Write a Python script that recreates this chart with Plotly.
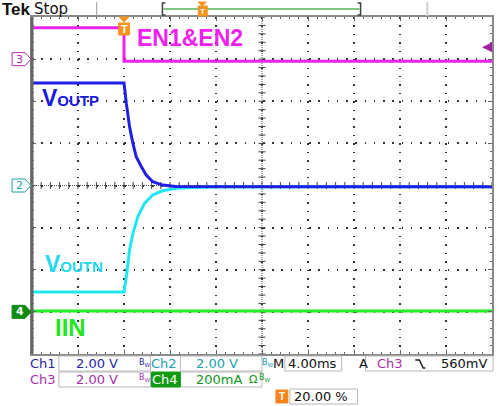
import plotly.graph_objects as go

# ---------------- data ----------------
# Ch1 : VOUTP (V), 2 V/div, offset 0 div
time_ch1_ms = [-8.0, 0.0, 0.2, 0.48, 0.77, 1.06, 1.5, 1.93, 2.5, 3.37, 4.5, 8.0, 16.0, 24.0, 32.0]
voutp_v = [4.87, 4.87, 3.91, 2.80, 2.01, 1.37, 0.90, 0.50, 0.18, 0.02, -0.05, -0.06, -0.06, -0.06, -0.06]
# Ch2 : VOUTN (V), 2 V/div, offset 0 div
time_ch2_ms = [-8.0, 0.0, 0.2, 0.48, 0.77, 1.2, 1.78, 2.5, 3.37, 4.5, 6.0, 8.0, 16.0, 24.0, 32.0]
voutn_v = [-5.06, -5.06, -4.34, -3.07, -2.28, -1.49, -0.85, -0.45, -0.25, -0.13, -0.09, -0.07, -0.06, -0.06, -0.06]
# Ch3 : EN1&EN2 (V), 2 V/div, offset +3 div
time_ch3_ms = [-8.0, 0.0, 0.0, 32.0]
en_v = [1.49, 1.49, -0.10, -0.10]
# Ch4 : IIN (mA), 200 mA/div, offset -3 div
time_ch4_ms = [-8.0, 32.0]
iin_ma = [4.0, 4.0]

ch_scale = {"ch1": 2.0, "ch2": 2.0, "ch3": 2.0, "ch4": 200.0}
ch_offset = {"ch1": 0.0, "ch2": 0.0, "ch3": 3.0, "ch4": -3.0}
trig_level_v = 0.56

# ---------------- geometry helpers (for decorations) ----------------
W, H = 501, 406
PL, PR, PT, PB = 32, 494, 17, 354


def fx(px):
    return (px - PL) / (PR - PL)


def fy(py):
    return (PB - py) / (PB - PT)


def to_div(vals, ch):
    return [ch_offset[ch] + v / ch_scale[ch] for v in vals]


def ppath(points, close=False):
    s = "M " + " L ".join(f"{fx(x):.5f},{fy(y):.5f}" for x, y in points)
    return s + (" Z" if close else "")


C1 = "#1f1fe6"
C2 = "#1ee6f5"
C3 = "#f020f0"
C4 = "#22ee22"

fig = go.Figure()

# center crosshair tick marks
xt = [-8 + 0.8 * k for k in range(51)]
fig.add_trace(go.Scatter(x=xt, y=[0] * len(xt), mode="markers", hoverinfo="skip",
                         marker=dict(symbol="line-ns", size=5, line=dict(width=1, color="#444444")),
                         showlegend=False))
yt = [-4 + 0.2 * k for k in range(41)]
fig.add_trace(go.Scatter(x=[12] * len(yt), y=yt, mode="markers", hoverinfo="skip",
                         marker=dict(symbol="line-ew", size=5, line=dict(width=1, color="#444444")),
                         showlegend=False))

# traces
fig.add_trace(go.Scatter(x=time_ch4_ms, y=to_div(iin_ma, "ch4"), mode="lines",
                         line=dict(color=C4, width=3), showlegend=False))
fig.add_trace(go.Scatter(x=time_ch3_ms, y=to_div(en_v, "ch3"), mode="lines",
                         line=dict(color=C3, width=3), showlegend=False))
fig.add_trace(go.Scatter(x=time_ch2_ms, y=to_div(voutn_v, "ch2"), mode="lines",
                         line=dict(color=C2, width=3), showlegend=False))
fig.add_trace(go.Scatter(x=time_ch1_ms, y=to_div(voutp_v, "ch1"), mode="lines",
                         line=dict(color=C1, width=3), showlegend=False))

shapes = []
# center crosshair lines
shapes.append(dict(type="line", xref="paper", yref="paper", x0=0.5, x1=0.5, y0=0, y1=1,
                   line=dict(color="#555555", width=1, dash="1px,1px"), layer="below"))
shapes.append(dict(type="line", xref="paper", yref="paper", x0=0, x1=1, y0=0.5, y1=0.5,
                   line=dict(color="#555555", width=1, dash="1px,1px"), layer="below"))
# thicker left frame edge
shapes.append(dict(type="line", xref="paper", yref="paper", x0=fx(32), x1=fx(32), y0=0, y1=1,
                   line=dict(color="#666666", width=3)))

# header items
shapes.append(dict(type="line", xref="paper", yref="paper", x0=fx(97), x1=fx(97), y0=fy(2), y1=fy(16),
                   line=dict(color="#999999", width=1)))
shapes.append(dict(type="path", xref="paper", yref="paper",
                   path=ppath([(166, 3), (163, 3), (163, 15), (166, 15)]), line=dict(color="#404040", width=1.5)))
shapes.append(dict(type="line", xref="paper", yref="paper", x0=fx(164), x1=fx(361), y0=fy(9), y1=fy(9),
                   line=dict(color="#80c880", width=2)))
shapes.append(dict(type="path", xref="paper", yref="paper",
                   path=ppath([(359, 3), (362, 3), (362, 15), (359, 15)]), line=dict(color="#404040", width=1.5)))
shapes.append(dict(type="path", xref="paper", yref="paper",
                   path=ppath([(199, 2), (207, 2), (203, 6)], True), fillcolor="#f7941d",
                   line=dict(color="#f7941d", width=1)))
shapes.append(dict(type="rect", xref="paper", yref="paper", x0=fx(199), x1=fx(208), y0=fy(16), y1=fy(6),
                   fillcolor="#f7941d", line=dict(color="#f7941d", width=1)))
shapes.append(dict(type="line", xref="paper", yref="paper", x0=fx(429), x1=fx(429), y0=fy(2), y1=fy(16),
                   line=dict(color="#d0d0d0", width=2)))

# trigger position marker on graticule
shapes.append(dict(type="path", xref="paper", yref="paper",
                   path=ppath([(119.5, 17), (129.5, 17), (124.5, 22)], True), fillcolor="#f7941d",
                   line=dict(color="#f7941d", width=1)))
shapes.append(dict(type="rect", xref="paper", yref="paper", x0=fx(119), x1=fx(130), y0=fy(35), y1=fy(23),
                   fillcolor="#f7941d", line=dict(color="#f7941d", width=1)))

# channel ground markers
def marker_path(cy):
    return ppath([(12, cy - 6.5), (25, cy - 6.5), (31, cy), (25, cy + 6.5), (12, cy + 6.5)], True)


def div_to_py(d):
    return PB - (d + 4) / 8 * (PB - PT)


for ch, col, fill in (("ch3", "#b030b0", "white"), ("ch2", "#20a0a8", "white"), ("ch4", "#108c10", "#108c10")):
    cy = div_to_py(ch_offset[ch])
    shapes.append(dict(type="path", xref="paper", yref="paper", path=marker_path(cy),
                       fillcolor=fill, line=dict(color=col, width=1)))

# readout boxes
BOX = "#b8b8b8"
for x0, x1, y0, y1 in [(59, 151, 356, 371), (181, 263, 356, 371), (286, 343, 356, 371), (367, 495, 356, 371),
                       (59, 151, 372, 387), (181, 263, 372, 387), (291, 359, 389, 404)]:
    shapes.append(dict(type="rect", xref="paper", yref="paper", x0=fx(x0), x1=fx(x1), y0=fy(y1), y1=fy(y0),
                       line=dict(color=BOX, width=1)))
shapes.append(dict(type="rect", xref="paper", yref="paper", x0=fx(152), x1=fx(181), y0=fy(387), y1=fy(372),
                   fillcolor="#109a10", line=dict(color="#109a10", width=1)))
shapes.append(dict(type="rect", xref="paper", yref="paper", x0=fx(277), x1=fx(289), y0=fy(403), y1=fy(390),
                   fillcolor="#f7841d", line=dict(color="#f7841d", width=1)))
# falling edge symbol
shapes.append(dict(type="path", xref="paper", yref="paper",
                   path=ppath([(417, 360), (421, 360), (425, 368), (427, 368)]),
                   line=dict(color="#202020", width=1.5)))

ann = []


def text(px, py, s, color, size, family="DejaVu Sans", anchor="left"):
    ann.append(dict(xref="paper", yref="paper", x=fx(px), y=fy(py), text=s, showarrow=False,
                    xanchor=anchor, yanchor="middle", font=dict(color=color, size=size, family=family),
                    borderpad=0))


LAB = "Liberation Sans, Arial"
# header
text(1, 9, "<b>Tek</b>", "#111111", 17, LAB)
text(33, 9, "Stop", "#111111", 15)
text(203.5, 11, "<b>T</b>", "white", 8, LAB, "center")
text(124.5, 29, "<b>T</b>", "white", 11, LAB, "center")

# channel labels on traces
text(136, 37.5, "<b>EN1&amp;EN2</b>", C3, 23, LAB)
text(41, 98.5, "<b>V<span style='font-size:15px'>OUTP</span></b>", "#1a1ae0", 23, LAB)
text(44, 264, "<b>V<span style='font-size:15px'>OUTN</span></b>", "#22d8f0", 23, LAB)
text(54, 327.5, "<b>IIN</b>", "#22e622", 24, LAB)

# ground marker numbers
text(19.5, div_to_py(ch_offset["ch3"]), "3", "#b030b0", 11, anchor="center")
text(19.5, div_to_py(ch_offset["ch2"]), "2", "#20a0a8", 11, anchor="center")
text(19.5, div_to_py(ch_offset["ch4"]), "<b>4</b>", "white", 11, anchor="center")

# readouts
R1, R2, R3 = 364, 379.5, 396.5
CB1, CB2, CB3, CB4 = "#2828a8", "#20a0b0", "#a830a8", "#10961a"
text(29, R1, "Ch1", CB1, 13)
text(75, R1, "2.00 V", CB1, 13)
text(138, R1 - 1, "B<sub>W</sub>", CB1, 8)
text(151, R1, "Ch2", CB2, 13)
text(196, R1, "2.00 V", CB2, 13)
text(262, R1 - 1, "B<sub>W</sub>", CB2, 8)
text(273, R1, "M", "#111111", 13)
text(288, R1, "4.00ms", "#111111", 13)
text(359, R1, "A", "#111111", 13)
text(377, R1, "Ch3", CB3, 13)
text(442, R1, "560mV", "#111111", 13)

text(29, R2, "Ch3", CB3, 13)
text(75, R2, "2.00 V", CB3, 13)
text(138, R2 - 1, "B<sub>W</sub>", CB3, 8)
text(152, R2, "Ch4", "white", 13)
text(196, R2, "200mA", CB4, 13)
text(249, R2, "Ω", CB4, 11)
text(259, R2 - 1, "B<sub>W</sub>", CB4, 8)

text(283, R3, "<b>T</b>", "white", 10, LAB, "center")
text(294, R3, "20.00 %", "#111111", 13)

# trigger level arrow (Ch3 level)
ann.append(dict(xref="paper", yref="y", x=fx(484), y=ch_offset["ch3"] + trig_level_v / ch_scale["ch3"],
                text="", showarrow=True, ax=10, ay=0, arrowhead=2, arrowsize=1, arrowwidth=2,
                arrowcolor="#a020a0"))

axis_common = dict(showticklabels=False, zeroline=False, showline=True, linecolor="#8a8a8a", linewidth=2,
                   mirror="allticks", ticks="inside", ticklen=4, tickcolor="#666666", tickwidth=1,
                   showgrid=True, gridcolor="#333333", gridwidth=1.5, fixedrange=True)

fig.update_layout(
    width=W, height=H, autosize=False,
    margin=dict(l=PL, r=W - PR, t=PT, b=H - PB, pad=0),
    paper_bgcolor="white", plot_bgcolor="white",
    font=dict(family="DejaVu Sans"),
    xaxis=dict(range=[-8, 32], tick0=-8, dtick=4, griddash="1.5px,6.92px",
               minor=dict(dtick=0.8, ticklen=2, tickcolor="#666666", ticks="inside", showgrid=False),
               **axis_common),
    yaxis=dict(range=[-4, 4], tick0=-4, dtick=1, griddash="1.5px,7.74px",
               minor=dict(dtick=0.2, ticklen=2, tickcolor="#666666", ticks="inside", showgrid=False),
               **axis_common),
    shapes=shapes, annotations=ann, showlegend=False,
)

fig.write_html("out.html", config={"displayModeBar": False},
               post_script="document.body.style.margin='0';document.body.style.padding='0';")
